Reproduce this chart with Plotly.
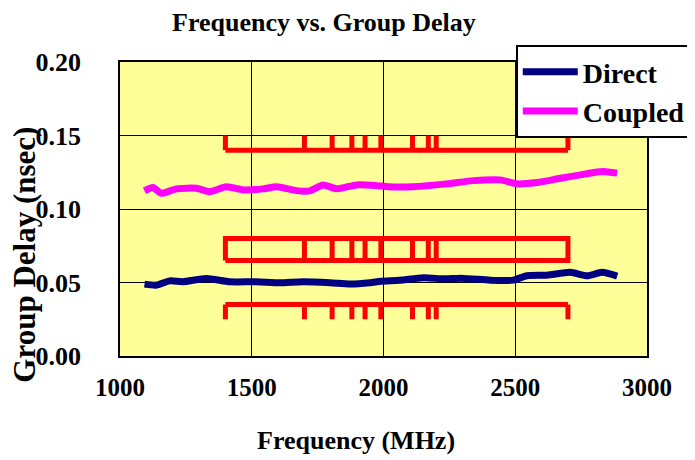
import plotly.graph_objects as go

# ---- data ----
freq_direct = [1093, 1138, 1188, 1238, 1328, 1416, 1518, 1606, 1694, 1797, 1873, 1949, 1990,
               2060, 2151, 2230, 2302, 2405, 2492, 2544, 2620, 2709, 2773, 2830, 2887]
delay_direct = [0.0489, 0.0482, 0.0511, 0.0505, 0.0528, 0.0505, 0.0505, 0.0498, 0.0505, 0.0498,
                0.0489, 0.0498, 0.0509, 0.0515, 0.0532, 0.0525, 0.0528, 0.0516, 0.0516, 0.0546,
                0.0550, 0.0569, 0.0546, 0.0569, 0.0543]

freq_coupled = [1093, 1125, 1157, 1214, 1290, 1340, 1404, 1467, 1543, 1594, 1670, 1720, 1771,
                1822, 1898, 1974, 2018, 2113, 2240, 2341, 2443, 2506, 2582, 2671, 2747, 2798,
                2836, 2887]
delay_coupled = [0.1123, 0.1146, 0.1107, 0.1137, 0.1141, 0.1118, 0.1152, 0.1130, 0.1137, 0.1152,
                 0.1125, 0.1123, 0.1164, 0.1137, 0.1164, 0.1159, 0.1152, 0.1152, 0.1171, 0.1193,
                 0.1198, 0.1171, 0.1180, 0.1209, 0.1232, 0.1248, 0.1255, 0.1244]

# band edge frequencies (MHz) marked by the red brackets
band_edges = [1400, 1700, 1805, 1880, 1930, 1990, 2110, 2170, 2200, 2700]
upper_base, upper_tip = 0.14, 0.15
box_bottom, box_top = 0.065, 0.08
lower_base, lower_tip = 0.035, 0.025

x_ticks = [1000, 1500, 2000, 2500, 3000]
y_ticks = [0.00, 0.05, 0.10, 0.15, 0.20]
y_tick_text = ["0.00", "0.05", "0.10", "0.15", "0.20"]

RED = "#FF0000"
FONT = "Liberation Serif"


def bracket(base, tip):
    xs = [band_edges[0], band_edges[-1], None]
    ys = [base, base, None]
    for f in band_edges:
        xs += [f, f, None]
        ys += [base, tip, None]
    return xs, ys


def box(bottom, top):
    xs = [band_edges[0], band_edges[-1], band_edges[-1], band_edges[0], band_edges[0], None]
    ys = [bottom, bottom, top, top, bottom, None]
    for f in band_edges[1:-1]:
        xs += [f, f, None]
        ys += [bottom, top, None]
    return xs, ys


fig = go.Figure()

for xs, ys in (bracket(upper_base, upper_tip), box(box_bottom, box_top),
               bracket(lower_base, lower_tip)):
    fig.add_trace(go.Scatter(x=xs, y=ys, mode="lines", showlegend=False,
                             line=dict(color=RED, width=5), hoverinfo="skip"))

fig.add_trace(go.Scatter(x=freq_direct, y=delay_direct, mode="lines", name="Direct",
                         line=dict(color="#000080", width=7, shape="spline", smoothing=0.6)))
fig.add_trace(go.Scatter(x=freq_coupled, y=delay_coupled, mode="lines", name="Coupled",
                         line=dict(color="#FF00FF", width=7, shape="spline", smoothing=0.6)))

fig.update_layout(
    width=687, height=452,
    margin=dict(l=112, r=48, t=54, b=104, autoexpand=False),
    paper_bgcolor="white",
    plot_bgcolor="#FFFF99",
    font=dict(family=FONT, size=24, color="black", weight="bold"),
    showlegend=True,
    legend=dict(x=0.751, y=1.058, xanchor="left", yanchor="top",
                bgcolor="white", bordercolor="black", borderwidth=2,
                font=dict(family=FONT, size=28, color="black", weight="bold"),
                tracegroupgap=0, itemwidth=55),
    xaxis=dict(range=[1000, 3000], tickvals=x_ticks, showgrid=True, gridcolor="black",
               gridwidth=1, showline=True, linecolor="black", linewidth=1.5, mirror=True,
               zeroline=False, ticks="", ticklabelstandoff=8,
               tickfont=dict(family=FONT, size=25, weight="bold")),
    yaxis=dict(range=[0, 0.20], tickvals=y_ticks, ticktext=y_tick_text, showgrid=True,
               gridcolor="black", gridwidth=1, showline=True, linecolor="black",
               linewidth=1.5, mirror=True, zeroline=False, ticks="", ticklabelstandoff=32,
               tickfont=dict(family=FONT, size=26, weight="bold")),
    annotations=[
        dict(text="Frequency vs. Group Delay", xref="paper", yref="paper", x=0.387, y=1.136,
             xanchor="center", yanchor="middle", showarrow=False,
             font=dict(family=FONT, size=26, weight="bold")),
        dict(text="Group Delay (nsec)", xref="paper", yref="paper", x=-0.182, y=0.345,
             xanchor="center", yanchor="middle", showarrow=False, textangle=-90,
             font=dict(family=FONT, size=31, weight="bold")),
        dict(text="Frequency (MHz)", xref="paper", yref="paper", x=0.448, y=-0.286,
             xanchor="center", yanchor="middle", showarrow=False,
             font=dict(family=FONT, size=26, weight="bold")),
    ],
)

fig.write_html("out.html")
